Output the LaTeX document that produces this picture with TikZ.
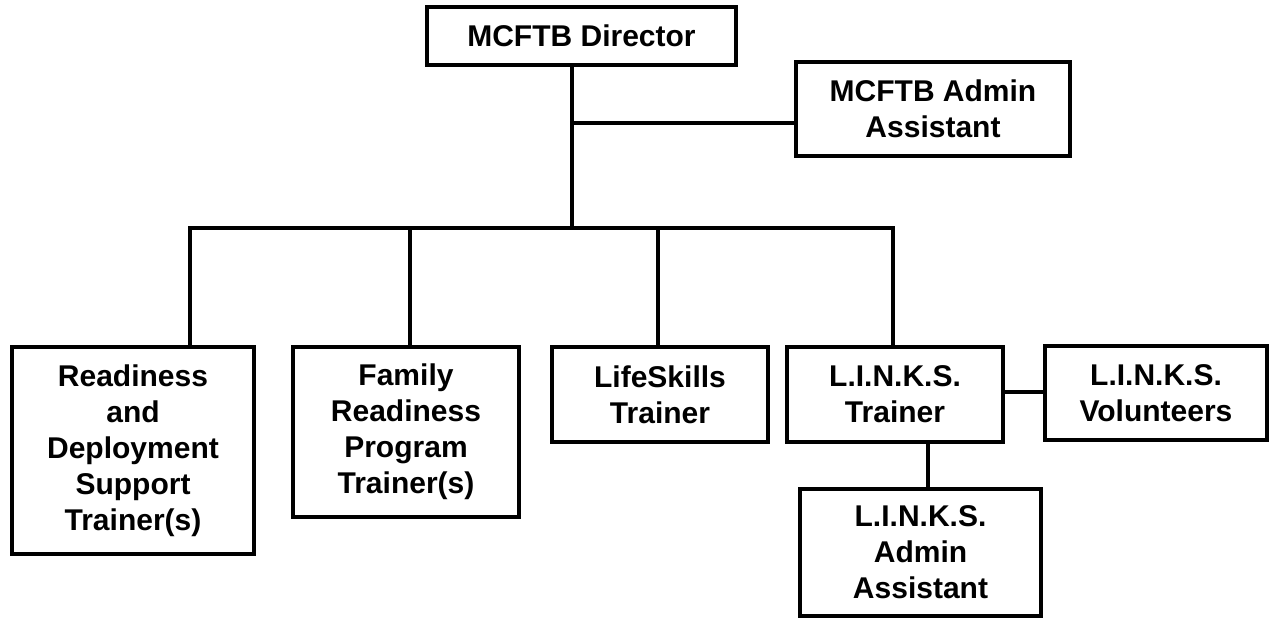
\documentclass[tikz,border=0pt]{standalone}
\usepackage{fontspec}
\setmainfont{Liberation Sans}
\begin{document}
\begin{tikzpicture}[x=1pt,y=-1pt,
  box/.style={draw=black, line width=3.2pt, align=center, inner sep=0pt,
    font=\bfseries\fontsize{30}{36}\selectfont},
  link/.style={draw=black, line width=3.4pt}]
\useasboundingbox (0,0) rectangle (1270,618);
\fill[white] (0,0) rectangle (1270,618);
% boxes
\node[box, minimum width=309pt, minimum height=58pt] (dir) at (581.5,36) {MCFTB Director};
\node[box, minimum width=274pt, minimum height=94pt] (adm) at (933,109) {MCFTB Admin\\Assistant};
\node[box, minimum width=242pt, minimum height=207pt] (rd) at (133,450.5) {Readiness\\and\\Deployment\\Support\\Trainer(s)};
\node[box, minimum width=226pt, minimum height=170pt] (fam) at (406,432) {Family\\Readiness\\Program\\Trainer(s)};
\node[box, minimum width=216pt, minimum height=95pt] (life) at (660,394.5) {LifeSkills\\Trainer};
\node[box, minimum width=216pt, minimum height=95pt] (lt) at (895,394.5) {L.I.N.K.S.\\Trainer};
\node[box, minimum width=222pt, minimum height=94pt] (vol) at (1156,393) {L.I.N.K.S.\\Volunteers};
\node[box, minimum width=241pt, minimum height=127pt] (lad) at (920.5,552.5) {L.I.N.K.S.\\Admin\\Assistant};
% junction coordinates
\coordinate (j) at (572,228);
\coordinate (ja) at (572,123);
\coordinate (b1) at (190,228);
\coordinate (b2) at (410,228);
\coordinate (b3) at (658,228);
\coordinate (b4) at (893,228);
\coordinate (lv) at (0,392);
\coordinate (la) at (928,0);
% connectors
\draw[link] (dir.south -| j) -- (j);
\draw[link] (ja) -- (ja -| adm.west);
\draw[link, line cap=rect] (b1) -- (b4);
\draw[link] (b1) -- (b1 |- rd.north);
\draw[link] (b2) -- (b2 |- fam.north);
\draw[link] (b3) -- (b3 |- life.north);
\draw[link] (b4) -- (b4 |- lt.north);
\draw[link] (lt.east |- lv) -- (vol.west |- lv);
\draw[link] (lt.south -| la) -- (la |- lad.north);
\end{tikzpicture}
\end{document}
